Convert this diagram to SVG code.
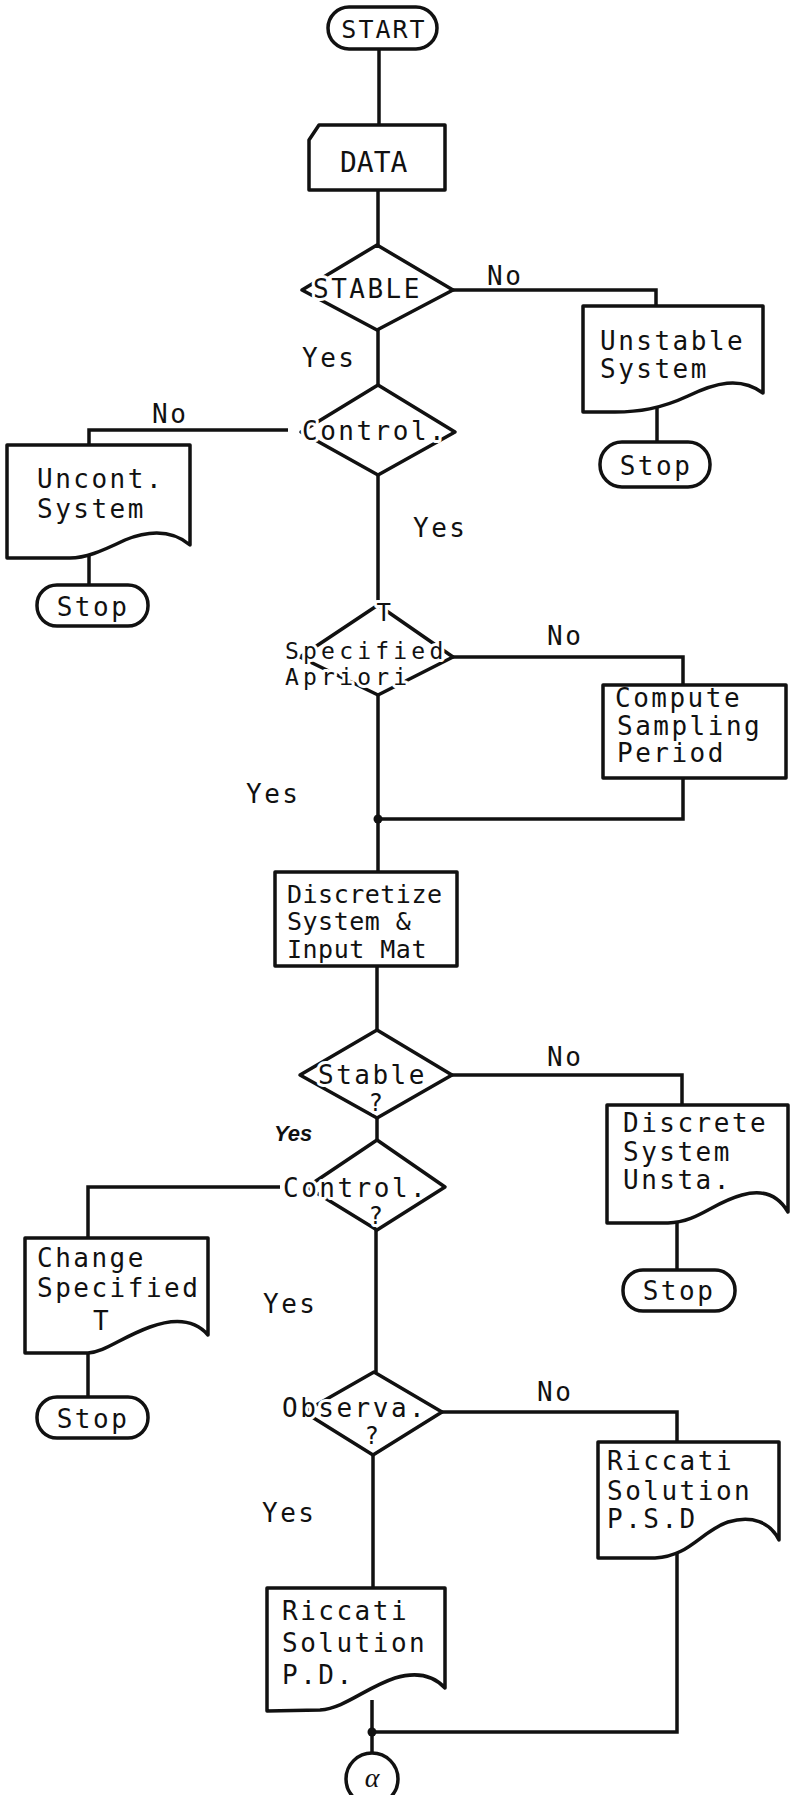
<svg xmlns="http://www.w3.org/2000/svg" width="790" height="1795" viewBox="0 0 790 1795">
<style>
.s{fill:#fff;stroke:#111;stroke-width:3.5;stroke-linejoin:round}
.c{fill:none;stroke:#111;stroke-width:3.5}
.t{font-family:"DejaVu Sans Mono","Liberation Mono",monospace;font-size:26px;letter-spacing:2.5px;fill:#111}
.h{stroke:#fff;stroke-width:6;paint-order:stroke;stroke-linejoin:round}
.m{text-anchor:middle}
.y{font-family:"Liberation Sans",sans-serif;font-style:italic;font-weight:bold;font-size:22px;fill:#111}
</style>
<rect width="790" height="1795" fill="#fff"/>
<g id="connectors">
<path class="c" d="M379,49 V125"/>
<path class="c" d="M378,190 V245"/>
<path class="c" d="M453,290 H656 V306"/>
<path class="c" d="M378,330 V385"/>
<path class="c" d="M657,405 V442"/>
<path class="c" d="M288,430 H89 V445"/>
<path class="c" d="M89,555 V585"/>
<path class="c" d="M378,475 V605"/>
<path class="c" d="M453,657 H683 V685"/>
<path class="c" d="M378,695 V872"/>
<path class="c" d="M683,778 V819 H378"/>
<circle cx="378" cy="819" r="4.5" fill="#111"/>
<path class="c" d="M377,966 V1030"/>
<path class="c" d="M452,1075 H682 V1105"/>
<path class="c" d="M677,1218 V1270"/>
<path class="c" d="M377,1118 V1140"/>
<path class="c" d="M280,1187 H88 V1238"/>
<path class="c" d="M88,1348 V1397"/>
<path class="c" d="M376,1230 V1372"/>
<path class="c" d="M442,1412 H677 V1442"/>
<path class="c" d="M373,1455 V1588"/>
<path class="c" d="M372,1700 V1754"/>
<path class="c" d="M677,1550 V1732 H372"/>
<circle cx="372" cy="1732" r="4.5" fill="#111"/>
<text class="t" x="487" y="285">No</text>
<text class="t" x="302" y="367">Yes</text>
<text class="t" x="152" y="423">No</text>
<text class="t" x="413" y="537">Yes</text>
<text class="t" x="547" y="645">No</text>
<text class="t" x="246" y="803">Yes</text>
<text class="t" x="547" y="1066">No</text>
<text class="y" x="274" y="1141">Yes</text>
<text class="t" x="263" y="1313">Yes</text>
<text class="t" x="537" y="1401">No</text>
<text class="t" x="262" y="1522">Yes</text>
</g>
<g id="start">
<rect class="s" x="328" y="7" width="109" height="42" rx="21"/>
<text class="t m" x="384" y="38" style="font-size:25px;letter-spacing:2px">START</text>
</g>
<g id="data">
<path class="s" d="M319,125 H445 V190 H309 V140 Z"/>
<text class="t" x="340" y="172" style="font-size:28px;letter-spacing:0">DATA</text>
</g>
<g id="stable1">
<polygon class="s" points="377,245 453,290 377,330 302,290"/>
<text class="t h" x="313" y="298">STABLE</text>
</g>
<g id="unstable">
<path class="s" d="M583,306 H763 V393 C740,376 715,383 688,396 C660,409 638,412 615,412 H583 Z"/>
<text class="t" x="600" y="350">Unstable</text>
<text class="t" x="600" y="378">System</text>
</g>
<g id="stop1">
<rect class="s" x="600" y="442" width="110" height="45" rx="22"/>
<text class="t m" x="656" y="475">Stop</text>
</g>
<g id="control1">
<polygon class="s" points="378,385 455,432 378,475 301,432"/>
<text class="t h" x="302" y="440">Control.</text>
</g>
<g id="uncont">
<path class="s" d="M7,445 H190 V545 C172,530 150,530 125,540 C100,552 85,558 70,558 H7 Z"/>
<text class="t" x="37" y="488">Uncont.</text>
<text class="t" x="37" y="518">System</text>
</g>
<g id="stop2">
<rect class="s" x="37" y="585" width="111" height="41" rx="20"/>
<text class="t m" x="93" y="616">Stop</text>
</g>
<g id="tspec">
<polygon class="s" points="378,605 453,657 378,695 300,657"/>
<text class="t h m" x="385" y="621" style="font-size:24px">T</text>
<text class="t h" x="285" y="659" style="font-size:23px;letter-spacing:4.2px">Specified</text>
<text class="t h" x="285" y="685" style="font-size:23px;letter-spacing:4.2px">Apriori</text>
</g>
<g id="compute">
<rect class="s" x="603" y="685" width="183" height="93"/>
<text class="t" x="615" y="707">Compute</text>
<text class="t" x="617" y="735">Sampling</text>
<text class="t" x="617" y="762">Period</text>
</g>
<g id="discretize">
<rect class="s" x="275" y="872" width="182" height="94"/>
<text class="t" x="287" y="903" style="font-size:25px;letter-spacing:0.5px">Discretize</text>
<text class="t" x="287" y="930" style="font-size:25px;letter-spacing:0.5px">System &amp;</text>
<text class="t" x="287" y="958" style="font-size:25px;letter-spacing:0.5px">Input Mat</text>
</g>
<g id="stable2">
<polygon class="s" points="377,1030 452,1075 377,1118 300,1075"/>
<text class="t h" x="318" y="1084">Stable</text>
<text class="t h m" x="377" y="1111" style="font-size:24px">?</text>
</g>
<g id="discrete">
<path class="s" d="M607,1105 H788 V1212 C778,1195 763,1189 742,1195 C712,1203 698,1222 668,1223 H607 Z"/>
<text class="t" x="623" y="1132">Discrete</text>
<text class="t" x="623" y="1161">System</text>
<text class="t" x="623" y="1189">Unsta.</text>
</g>
<g id="stop3">
<rect class="s" x="623" y="1270" width="112" height="41" rx="20"/>
<text class="t m" x="679" y="1300">Stop</text>
</g>
<g id="control2">
<polygon class="s" points="377,1140 445,1187 377,1230 307,1187"/>
<text class="t h" x="283" y="1197">Control.</text>
<text class="t h m" x="377" y="1224" style="font-size:24px">?</text>
</g>
<g id="change">
<path class="s" d="M25,1238 H208 V1335 C195,1320 175,1318 150,1327 C120,1338 105,1352 88,1353 H25 Z"/>
<text class="t" x="37" y="1267">Change</text>
<text class="t" x="37" y="1297">Specified</text>
<text class="t m" x="102" y="1330">T</text>
</g>
<g id="stop4">
<rect class="s" x="37" y="1397" width="111" height="41" rx="20"/>
<text class="t m" x="93" y="1428">Stop</text>
</g>
<g id="observa">
<polygon class="s" points="374,1372 442,1412 373,1455 304,1412"/>
<text class="t h" x="282" y="1417">Observa.</text>
<text class="t h m" x="373" y="1444" style="font-size:24px">?</text>
</g>
<g id="riccati_psd">
<path class="s" d="M598,1442 H779 V1540 C770,1522 752,1515 728,1522 C700,1532 690,1556 655,1558 H598 Z"/>
<text class="t" x="607" y="1470">Riccati</text>
<text class="t" x="607" y="1500">Solution</text>
<text class="t" x="607" y="1528">P.S.D</text>
</g>
<g id="riccati_pd">
<path class="s" d="M267,1588 H445 V1688 C432,1674 415,1672 395,1678 C365,1688 345,1708 320,1710 L267,1711 Z"/>
<text class="t" x="282" y="1620">Riccati</text>
<text class="t" x="282" y="1652">Solution</text>
<text class="t" x="282" y="1684">P.D.</text>
</g>
<g id="alpha">
<circle class="s" cx="372" cy="1779" r="26"/>
<text x="372" y="1787" text-anchor="middle" style="font-family:'Liberation Serif',serif;font-style:italic;font-size:28px;fill:#111">α</text>
</g>
</svg>
